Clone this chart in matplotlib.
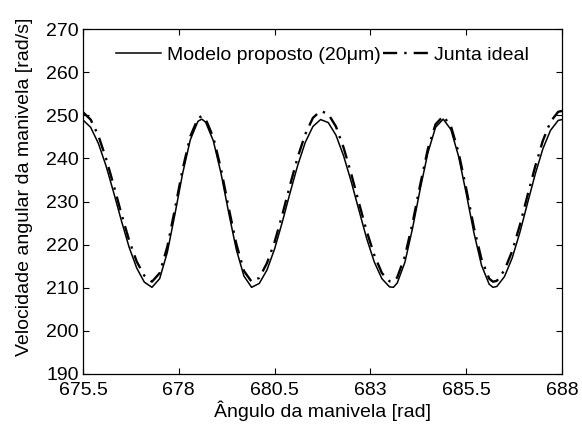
import matplotlib
matplotlib.use("Agg")
import matplotlib.pyplot as plt

plt.rcParams['font.family'] = ['Liberation Sans', 'DejaVu Sans']

# crank angle samples [rad]
angle = [675.5, 675.7, 675.9, 676.1, 676.3, 676.5, 676.7, 676.9, 677.1, 677.3,
         677.5, 677.7, 677.9, 678.1, 678.3, 678.5, 678.6, 678.7, 678.9, 679.1,
         679.3, 679.5, 679.7, 679.9, 680.1, 680.3, 680.5, 680.7, 680.9, 681.1,
         681.3, 681.5, 681.7, 681.9, 682.1, 682.3, 682.5, 682.7, 682.9, 683.1,
         683.3, 683.5, 683.6, 683.7, 683.9, 684.1, 684.3, 684.5, 684.7, 684.9,
         685.1, 685.3, 685.5, 685.7, 685.9, 686.1, 686.2, 686.3, 686.5, 686.7,
         686.9, 687.1, 687.3, 687.5, 687.7, 687.9, 688.0]

# proposed model (20 um clearance) [rad/s]
modelo = [248.9, 247.2, 243.5, 238.3, 232.1, 225.6, 219.5, 214.6, 211.3, 210.1,
          212.1, 218.2, 227.1, 236.5, 244.3, 248.6, 249.1, 248.4, 244.1, 236.6,
          227.5, 218.9, 212.7, 210.1, 211.0, 214.1, 219.0, 225.2, 231.9, 238.3,
          243.7, 247.4, 249.0, 248.3, 245.4, 240.6, 234.6, 228.0, 221.5, 216.0,
          212.1, 210.2, 210.1, 211.1, 215.9, 223.8, 232.9, 241.3, 247.2, 249.1,
          246.7, 240.5, 231.9, 222.8, 215.2, 210.8, 210.1, 210.3, 212.6, 216.9,
          222.8, 229.6, 236.3, 242.2, 246.5, 248.8, 249.0]

# ideal joint [rad/s]
ideal = [250.7, 249.0, 245.3, 240.0, 233.8, 227.2, 221.1, 216.1, 212.8, 211.4,
         213.4, 219.5, 228.3, 237.5, 245.1, 249.3, 249.8, 249.1, 244.9, 237.6,
         228.6, 220.2, 213.9, 211.4, 212.3, 215.7, 220.6, 226.9, 233.7, 240.2,
         245.6, 249.4, 251.0, 250.3, 247.4, 242.5, 236.4, 229.7, 223.2, 217.6,
         213.4, 211.5, 211.4, 212.4, 217.3, 225.0, 233.9, 242.2, 247.9, 249.8,
         247.5, 241.4, 233.0, 224.0, 216.6, 212.1, 211.4, 211.6, 214.1, 218.5,
         224.5, 231.4, 238.1, 244.1, 248.5, 250.8, 251.0]

xticks = [675.5, 678, 680.5, 683, 685.5, 688]
xticklabels = ['675.5', '678', '680.5', '683', '685.5', '688']
yticks = [190, 200, 210, 220, 230, 240, 250, 260, 270]

fs = 14

fig = plt.figure(figsize=(5.82, 4.25), dpi=100)
ax = fig.add_axes([83 / 582, 1 - 374 / 425, (562 - 83) / 582, (374 - 29) / 425])

ax.plot(angle, modelo, color='black', lw=1.1, label='Modelo proposto (20μm)')
ax.plot(angle, ideal, color='black', lw=1.7, linestyle=(0, (6, 3, 1, 3)),
        label='Junta ideal')

ax.set_xlim(675.5, 688)
ax.set_ylim(190, 270)
ax.set_xticks(xticks)
ax.set_xticklabels(xticklabels)
ax.set_yticks(yticks)
ax.tick_params(direction='in', length=4, width=0.8, labelsize=fs,
               top=True, right=True, pad=3)
ax.tick_params(axis='x', pad=6)
for s in ax.spines.values():
    s.set_linewidth(0.9)

ax.set_xlabel('Ângulo da manivela [rad]', fontsize=fs, labelpad=1)
ax.set_ylabel('Velocidade angular da manivela [rad/s]', fontsize=fs)
ax.yaxis.set_label_coords(-0.105, 0.542)

ax.legend(loc='center', bbox_to_anchor=(0.5, 0.925), ncol=2, frameon=False,
          fontsize=fs, handlelength=2.3, handletextpad=0.3, columnspacing=0.15,
          borderaxespad=0, borderpad=0)

fig.savefig('out.png', dpi=100)
